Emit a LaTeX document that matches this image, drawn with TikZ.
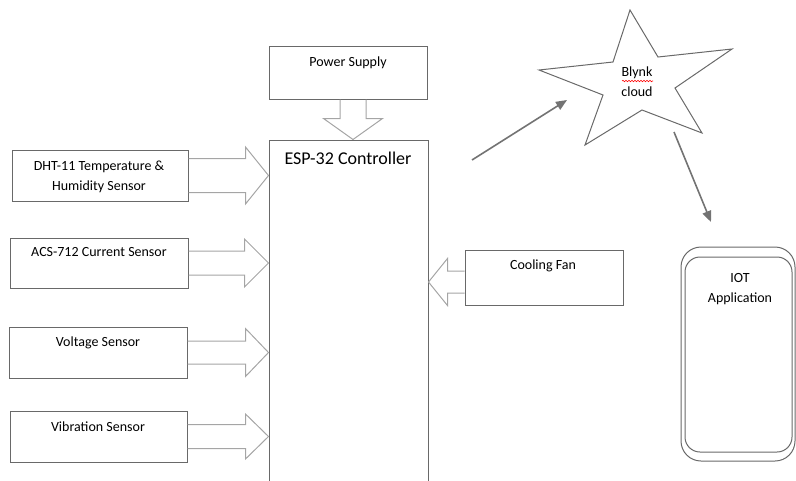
\documentclass[tikz,border=0pt]{standalone}
\usepackage{fontspec}
\setmainfont{Carlito}
\usetikzlibrary{calc,arrows.meta,decorations.pathmorphing}

\definecolor{boxgray}{RGB}{105,105,105}
\definecolor{fatgray}{RGB}{165,165,165}
\definecolor{linkgray}{RGB}{115,115,115}

\tikzset{
  blk/.style={draw=boxgray, line width=1pt, inner sep=0pt},
  txt/.style={font=\fontsize{14}{20}\selectfont, align=center, inner sep=0pt},
  fat/.style={draw=fatgray, line width=1pt, line join=miter},
  link/.style={draw=linkgray, line width=1.6pt, ->},
}

% hollow block arrow: tail, tip, half shaft, half head, head length
\newcommand{\fatarrow}[5]{%
  \coordinate (fh) at ($(#2)!#5!(#1)$);
  \draw[fat] ($(#1)!#3!90:(#2)$) -- ($(fh)!#3!-90:(#1)$) -- ($(fh)!#4!-90:(#1)$)
    -- (#2) -- ($(fh)!#4!90:(#1)$) -- ($(fh)!#3!90:(#1)$) -- ($(#1)!#3!-90:(#2)$);
}

\begin{document}
\begin{tikzpicture}[x=1pt, y=-1pt, >={Triangle[length=11pt,width=9pt]}]
\useasboundingbox (0,0) rectangle (796,480);
\clip (0,0) rectangle (796,480);

\node[blk, minimum width=158, minimum height=53] (ps) at (348,72.5) {};
\node[blk, minimum width=159, minimum height=360] (esp) at (348.5,320) {};
\node[blk, minimum width=176, minimum height=51] (dht) at (100,175.5) {};
\node[blk, minimum width=178, minimum height=50] (acs) at (99,263) {};
\node[blk, minimum width=178, minimum height=51] (volt) at (98,352.5) {};
\node[blk, minimum width=177, minimum height=51] (vib) at (98.5,436.5) {};
\node[blk, minimum width=158, minimum height=55] (fan) at (544,277.5) {};
\node[blk, minimum width=114, minimum height=214, rounded corners=20pt] (iot) at (738,354) {};
\node[blk, minimum width=107, minimum height=195, rounded corners=15pt] (iotin) at (738.5,354.5) {};

\node[txt] (ps-t) at (348,63) {Power Supply};
\node[txt, font=\fontsize{18}{22}\selectfont] (esp-t) at (348,158) {ESP-32 Controller};
\node[txt] (dht-t) at (99,177) {DHT-11 Temperature \&\\Humidity Sensor};
\node[txt] (acs-t) at (99,252) {ACS-712 Current Sensor};
\node[txt] (volt-t) at (98,343) {Voltage Sensor};
\node[txt] (vib-t) at (98,427) {Vibration Sensor};
\node[txt] (fan-t) at (543,266) {Cooling Fan};
\node[txt] (iot-t) at (740,289) {IOT\\Application};

% the cloud
\draw[boxgray, line width=1pt, line join=miter] (630,10) -- (658,57) -- (732,49) -- (675,88)
  -- (702,133) -- (642,110) -- (585,145) -- (603,95) -- (539,70) -- (613,62) -- cycle;
\node[txt] (cloud) at (637,82) {Blynk\\cloud};
\draw[red, line width=0.6pt, decorate, decoration={snake, amplitude=0.7pt, segment length=3pt}]
  (622,81) -- (653,81);

% block arrows into the controller
\coordinate (ps-out) at ([xshift=5pt]ps.south);
\coordinate (ps-in) at (ps-out |- esp.north);
\coordinate (dht-in) at (dht.east -| esp.west);
\coordinate (acs-in) at (acs.east -| esp.west);
\coordinate (volt-in) at (volt.east -| esp.west);
\coordinate (vib-in) at (vib.east -| esp.west);
\coordinate (fan-out) at ([yshift=-4.5pt]fan.west);
\coordinate (fan-in) at (fan-out -| esp.east);

\fatarrow{ps-out}{ps-in}{13pt}{29.5pt}{21pt}
\fatarrow{dht.east}{dht-in}{17pt}{28.5pt}{23pt}
\fatarrow{acs.east}{acs-in}{12pt}{24pt}{24pt}
\fatarrow{volt.east}{volt-in}{11.5pt}{24pt}{23pt}
\fatarrow{vib.east}{vib-in}{12pt}{22.5pt}{23pt}
\fatarrow{fan-out}{fan-in}{11pt}{23.5pt}{19pt}

% to and from the cloud
\coordinate (up-from) at (472,160);
\coordinate (up-to) at (567,100);
\coordinate (down-from) at (674,132);
\coordinate (down-to) at (711,222);
\draw[link] (up-from) -- (up-to);
\draw[link] (down-from) -- (down-to);
\end{tikzpicture}
\end{document}
